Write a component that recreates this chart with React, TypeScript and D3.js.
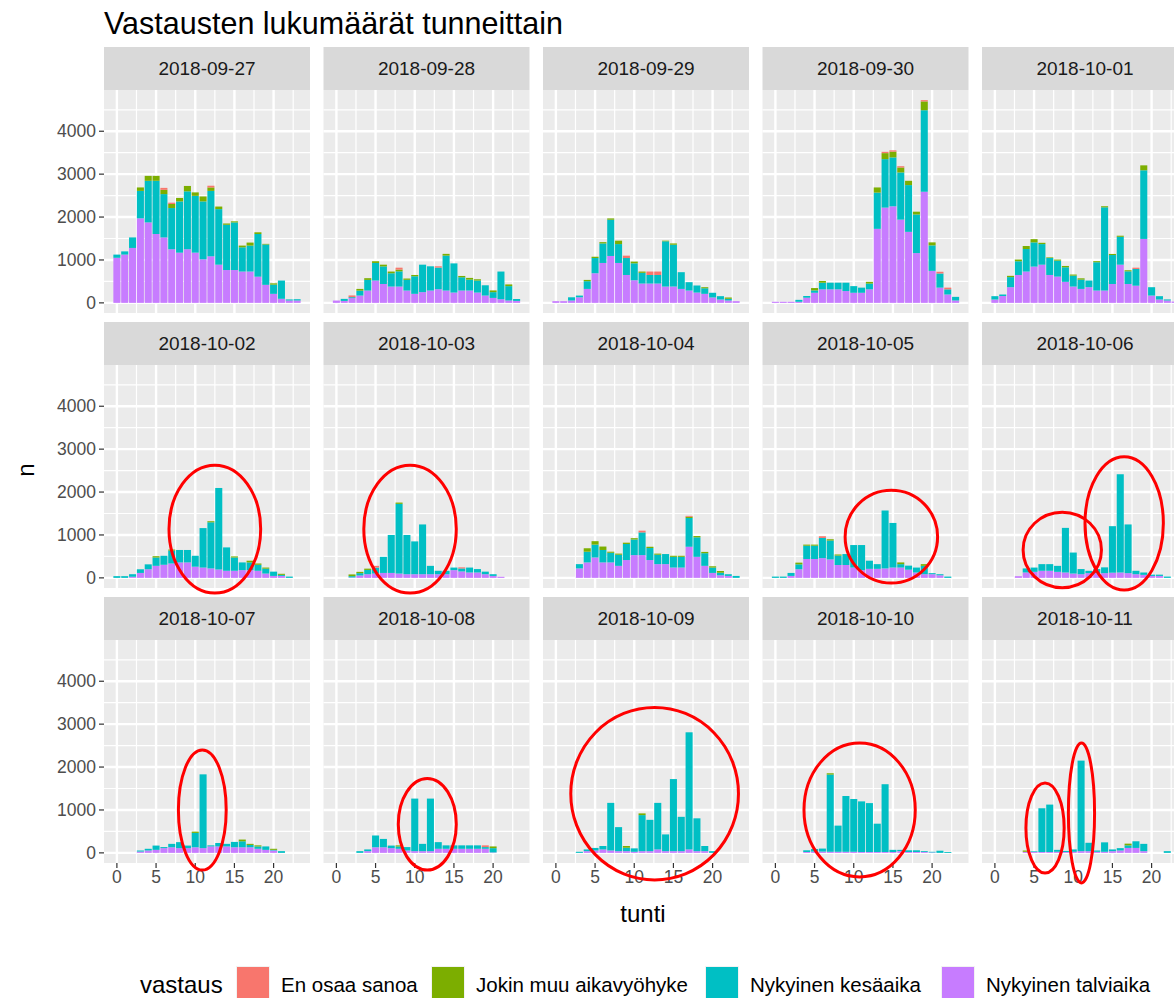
import * as d3 from "d3";
import React from "react";

// päivät (facetit) ja tunnit
const dates = [
  "2018-09-27", "2018-09-28", "2018-09-29", "2018-09-30", "2018-10-01",
  "2018-10-02", "2018-10-03", "2018-10-04", "2018-10-05", "2018-10-06",
  "2018-10-07", "2018-10-08", "2018-10-09", "2018-10-10", "2018-10-11",
];
const hours = [0, 1, 2, 3, 4, 5, 6, 7, 8, 9, 10, 11, 12, 13, 14, 15, 16, 17, 18, 19, 20, 21, 22, 23];

const vastaus = ["En osaa sanoa", "Jokin muu aikavyöhyke", "Nykyinen kesäaika", "Nykyinen talviaika"];
const vastausColors = ["#F8766D", "#7CAE00", "#00BFC4", "#C77CFF"];

// vastaukset tunneittain, yksi rivi per päivä
const enOsaa = [
  [0, 0, 0, 0, 0, 0, 45, 30, 0, 0, 0, 0, 40, 0, 0, 0, 0, 0, 0, 0, 0, 0, 0, 0],
  [0, 0, 40, 0, 0, 0, 0, 0, 45, 0, 0, 0, 0, 30, 0, 0, 0, 0, 0, 0, 0, 0, 0, 0],
  [0, 0, 0, 0, 0, 0, 0, 0, 0, 55, 0, 0, 80, 80, 0, 0, 0, 0, 0, 0, 0, 0, 0, 0],
  [0, 0, 0, 0, 0, 0, 0, 0, 0, 0, 0, 0, 0, 0, 30, 30, 30, 0, 0, 30, 0, 40, 40, 0],
  [0, 0, 0, 0, 0, 0, 0, 0, 0, 0, 0, 0, 0, 0, 0, 0, 0, 0, 30, 0, 0, 0, 0, 0],
  [0, 0, 0, 0, 0, 0, 0, 0, 0, 0, 0, 0, 0, 0, 0, 0, 0, 0, 0, 0, 0, 0, 0, 0],
  [0, 0, 0, 0, 0, 40, 0, 0, 0, 0, 0, 0, 0, 0, 0, 0, 25, 0, 0, 0, 0, 0, 0, 0],
  [0, 0, 0, 0, 0, 0, 0, 0, 0, 0, 0, 40, 0, 0, 0, 0, 0, 20, 0, 0, 0, 0, 0, 0],
  [0, 0, 0, 0, 0, 0, 40, 0, 0, 0, 0, 0, 0, 0, 0, 0, 0, 0, 0, 0, 0, 0, 0, 0],
  [0, 0, 0, 0, 0, 0, 0, 0, 0, 0, 0, 0, 0, 0, 0, 0, 0, 0, 0, 0, 0, 0, 0, 0],
  [0, 0, 0, 0, 0, 0, 0, 0, 0, 0, 0, 0, 0, 0, 0, 0, 0, 0, 0, 0, 0, 0, 0, 0],
  [0, 0, 0, 0, 0, 0, 0, 0, 0, 0, 0, 0, 0, 0, 0, 0, 0, 0, 0, 40, 0, 0, 0, 0],
  [0, 0, 0, 0, 0, 0, 0, 0, 0, 0, 0, 0, 0, 0, 0, 0, 0, 0, 0, 0, 0, 0, 0, 0],
  [0, 0, 0, 0, 0, 0, 0, 0, 0, 0, 0, 0, 0, 0, 0, 0, 0, 0, 0, 0, 0, 0, 0, 0],
  [0, 0, 0, 0, 0, 0, 0, 0, 0, 0, 0, 0, 0, 0, 0, 0, 0, 0, 0, 0, 0, 0, 0, 0],
];

const jokinMuu = [
  [0, 0, 0, 80, 115, 115, 100, 95, 80, 125, 80, 115, 80, 60, 30, 25, 40, 70, 40, 15, 30, 0, 0, 0],
  [0, 0, 0, 40, 40, 40, 40, 40, 40, 30, 30, 0, 0, 0, 40, 0, 30, 40, 30, 0, 40, 0, 40, 0],
  [0, 0, 0, 0, 30, 30, 30, 30, 80, 0, 40, 30, 0, 0, 15, 30, 0, 0, 0, 25, 0, 0, 30, 0],
  [0, 0, 0, 0, 0, 55, 40, 0, 0, 0, 0, 0, 40, 120, 140, 135, 115, 100, 65, 205, 70, 0, 0, 0],
  [0, 0, 30, 40, 70, 75, 30, 15, 25, 30, 25, 30, 0, 25, 25, 25, 25, 25, 0, 115, 0, 0, 0, 0],
  [0, 0, 0, 0, 0, 30, 0, 25, 0, 0, 0, 0, 25, 0, 0, 25, 0, 40, 30, 25, 0, 25, 0, 0],
  [0, 0, 40, 30, 30, 0, 0, 0, 30, 0, 0, 0, 0, 0, 0, 0, 0, 0, 0, 0, 0, 0, 0, 0],
  [0, 0, 0, 0, 80, 80, 80, 25, 25, 30, 30, 0, 30, 25, 0, 25, 25, 30, 30, 30, 30, 40, 0, 0],
  [0, 0, 0, 40, 25, 25, 0, 30, 25, 0, 0, 0, 0, 0, 0, 0, 40, 0, 0, 40, 0, 0, 0, 0],
  [0, 0, 0, 0, 0, 0, 0, 0, 0, 0, 0, 0, 0, 0, 0, 0, 0, 0, 0, 0, 0, 0, 0, 0],
  [0, 0, 0, 0, 0, 0, 0, 0, 0, 0, 30, 0, 0, 0, 0, 0, 40, 25, 25, 0, 25, 0, 0, 0],
  [0, 0, 0, 0, 0, 0, 0, 0, 25, 0, 0, 0, 0, 0, 0, 0, 0, 0, 0, 0, 40, 0, 0, 0],
  [0, 0, 0, 0, 0, 0, 0, 0, 0, 40, 0, 40, 0, 0, 0, 0, 0, 0, 0, 0, 0, 0, 0, 0],
  [0, 0, 0, 0, 0, 0, 0, 30, 0, 0, 0, 0, 0, 0, 0, 0, 0, 0, 0, 0, 0, 0, 0, 0],
  [0, 0, 0, 0, 30, 0, 0, 0, 0, 0, 0, 0, 0, 0, 0, 0, 0, 40, 0, 0, 0, 0, 0, 0],
];

const kesaaika = [
  [75, 75, 245, 640, 970, 1240, 1010, 960, 1195, 1350, 1325, 1350, 1525, 1295, 1055, 1110, 565, 605, 995, 940, 215, 425, 25, 30],
  [0, 48, 23, 115, 248, 410, 410, 310, 355, 250, 410, 640, 565, 505, 815, 680, 310, 255, 280, 240, 135, 645, 335, 45],
  [0, 0, 75, 40, 180, 355, 455, 845, 440, 395, 395, 250, 200, 200, 1055, 975, 390, 195, 165, 130, 110, 78, 40, 0],
  [0, 0, 0, 45, 40, 55, 155, 155, 155, 195, 155, 120, 135, 845, 1130, 1140, 1100, 1090, 900, 1900, 595, 330, 120, 85],
  [78, 35, 235, 320, 525, 565, 480, 395, 372, 340, 255, 217, 155, 660, 1940, 675, 650, 295, 390, 1600, 195, 78, 25, 0],
  [40, 40, 60, 85, 115, 195, 210, 300, 290, 290, 255, 920, 1075, 1900, 545, 310, 180, 180, 140, 115, 100, 25, 30, 0],
  [0, 0, 30, 55, 100, 140, 375, 885, 1625, 915, 765, 1160, 195, 80, 80, 60, 70, 115, 80, 60, 40, 0, 0, 0],
  [0, 0, 0, 100, 250, 300, 290, 225, 260, 375, 365, 530, 280, 220, 235, 250, 250, 670, 455, 295, 125, 60, 40, 45],
  [30, 30, 70, 115, 310, 310, 470, 440, 220, 255, 525, 585, 190, 110, 1350, 1040, 80, 95, 115, 195, 25, 25, 30, 0],
  [0, 0, 0, 0, 95, 100, 155, 155, 140, 1040, 490, 120, 55, 95, 135, 1085, 2290, 1135, 80, 55, 30, 30, 30, 0],
  [0, 0, 0, 25, 40, 100, 25, 80, 140, 60, 335, 1720, 25, 80, 60, 125, 140, 55, 55, 80, 15, 40, 0, 0],
  [0, 0, 0, 40, 40, 275, 195, 60, 55, 80, 1225, 170, 1225, 155, 80, 80, 80, 80, 80, 40, 100, 0, 0, 0],
  [0, 0, 0, 25, 40, 60, 80, 1110, 560, 80, 80, 840, 730, 1085, 390, 1680, 800, 2730, 765, 120, 40, 0, 0, 0],
  [0, 0, 0, 0, 40, 60, 70, 1800, 610, 1300, 1230, 1180, 1140, 660, 1580, 50, 30, 40, 40, 20, 15, 50, 20, 0],
  [0, 0, 0, 0, 0, 15, 1020, 1105, 45, 25, 55, 2110, 195, 30, 220, 40, 55, 60, 155, 170, 0, 0, 40, 0],
];

const talviaika = [
  [1050, 1125, 1280, 1970, 1875, 1605, 1525, 1250, 1170, 1250, 1170, 1015, 1085, 890, 765, 765, 730, 730, 610, 420, 210, 95, 55, 55],
  [54, 45, 110, 170, 287, 520, 440, 380, 380, 287, 210, 250, 287, 318, 287, 240, 287, 287, 240, 170, 115, 85, 55, 45],
  [40, 40, 55, 130, 325, 690, 930, 1093, 930, 650, 527, 450, 450, 450, 380, 380, 325, 287, 240, 210, 125, 78, 55, 40],
  [25, 25, 25, 25, 120, 235, 315, 315, 315, 275, 235, 235, 315, 1725, 2220, 2250, 1940, 1655, 1160, 2590, 745, 355, 195, 55],
  [78, 160, 365, 650, 730, 845, 890, 650, 612, 490, 380, 325, 365, 287, 287, 440, 890, 440, 400, 1490, 170, 78, 55, 30],
  [0, 0, 25, 115, 200, 280, 305, 335, 360, 360, 260, 240, 220, 195, 165, 165, 180, 180, 165, 100, 45, 45, 0, 0],
  [0, 0, 10, 55, 85, 100, 115, 115, 100, 85, 85, 85, 85, 85, 85, 180, 150, 125, 125, 85, 45, 25, 0, 0],
  [0, 0, 0, 220, 360, 475, 360, 360, 280, 415, 530, 530, 415, 320, 320, 240, 240, 725, 490, 280, 115, 60, 45, 0],
  [0, 0, 45, 200, 440, 440, 460, 430, 300, 300, 240, 180, 210, 210, 220, 240, 240, 190, 125, 85, 85, 60, 0, 0],
  [0, 0, 0, 40, 125, 140, 165, 165, 140, 125, 100, 85, 110, 110, 110, 120, 125, 110, 85, 70, 45, 45, 0, 0],
  [0, 0, 0, 30, 55, 70, 110, 130, 110, 110, 130, 110, 150, 150, 150, 130, 130, 130, 95, 70, 55, 0, 0, 0],
  [0, 0, 0, 0, 40, 130, 130, 110, 95, 55, 40, 40, 40, 95, 95, 95, 95, 95, 95, 95, 10, 0, 0, 0],
  [0, 0, 0, 0, 40, 55, 80, 55, 40, 40, 25, 40, 40, 80, 40, 40, 40, 80, 40, 40, 0, 0, 0, 0],
  [0, 0, 0, 0, 20, 30, 30, 25, 25, 25, 25, 20, 20, 20, 20, 20, 40, 20, 20, 20, 10, 0, 0, 0],
  [0, 0, 0, 0, 25, 20, 20, 20, 25, 20, 25, 40, 40, 25, 25, 40, 55, 115, 115, 40, 0, 0, 0, 0],
];

const xTicks = [0, 5, 10, 15, 20];
const xMinor = [2.5, 7.5, 12.5, 17.5, 22.5];
const yTicks = [0, 1000, 2000, 3000, 4000];
const yMinor = [500, 1500, 2500, 3500, 4500];

// punaiset ympyrät (tunti, n, säteet datayksiköissä)
const ympyrat = [
  { date: "2018-10-02", tunti: 12.5, n: 1137, rt: 5.85, rn: 1490 },
  { date: "2018-10-03", tunti: 9.4, n: 1137, rt: 5.9, rn: 1490 },
  { date: "2018-10-05", tunti: 14.8, n: 960, rt: 5.9, rn: 1080 },
  { date: "2018-10-06", tunti: 8.6, n: 650, rt: 5.0, rn: 880 },
  { date: "2018-10-06", tunti: 16.5, n: 1270, rt: 5.0, rn: 1550 },
  { date: "2018-10-07", tunti: 10.9, n: 1000, rt: 3.05, rn: 1400 },
  { date: "2018-10-08", tunti: 11.6, n: 667, rt: 3.7, rn: 1067 },
  { date: "2018-10-09", tunti: 12.6, n: 1380, rt: 10.7, rn: 2010 },
  { date: "2018-10-10", tunti: 10.75, n: 1000, rt: 7.1, rn: 1560 },
  { date: "2018-10-11", tunti: 6.4, n: 580, rt: 2.44, rn: 1050 },
  { date: "2018-10-11", tunti: 11.05, n: 930, rt: 1.67, rn: 1630 },
];

const FONT = "'Liberation Sans', Arial, sans-serif";
const panelW = 206;
const panelH = 223;
const stripH = 43;
const colX = (c) => 104 + c * 219.5;
const stripY = (r) => 47 + r * 275;

const keys = ["talvi", "kesa", "muu", "eos"];
const keyColor = { talvi: "#C77CFF", kesa: "#00BFC4", muu: "#7CAE00", eos: "#F8766D" };

export default function App() {
  const stacked = dates.map((d, i) => {
    const rows = hours.map((h) => ({
      tunti: h,
      talvi: talviaika[i][h],
      kesa: kesaaika[i][h],
      muu: jokinMuu[i][h],
      eos: enOsaa[i][h],
    }));
    return d3.stack().keys(keys)(rows);
  });

  const maxN = d3.max(stacked, (s) => d3.max(s[s.length - 1], (p) => p[1]));
  const x = d3.scaleLinear().domain([-0.45 - 1.195, 23.45 + 1.195]).range([0, panelW]);
  const y = d3
    .scaleLinear()
    .domain([-maxN * 0.05, maxN * 1.05])
    .range([panelH, 0]);
  const bw = x(0.9) - x(0);

  return (
    <svg
      width={1174}
      height={998}
      style={{ position: "absolute", left: 0, top: 0, background: "#fff" }}
      fontFamily={FONT}
    >
      <rect width={1174} height={998} fill="#fff" />
      <text x={104} y={34} fontSize={30.5} fill="#000">
        Vastausten lukumäärät tunneittain
      </text>

      {dates.map((d, i) => {
        const c = i % 5;
        const r = Math.floor(i / 5);
        const px = colX(c);
        const py = stripY(r) + stripH;
        return (
          <g key={d}>
            {/* otsikkonauha */}
            <rect x={px} y={stripY(r)} width={panelW} height={stripH} fill="#D9D9D9" />
            <text
              x={px + panelW / 2}
              y={stripY(r) + stripH / 2}
              textAnchor="middle"
              dominantBaseline="central"
              fontSize={19}
              fill="#1A1A1A"
            >
              {d}
            </text>

            <g transform={`translate(${px},${py})`}>
              <rect width={panelW} height={panelH} fill="#EBEBEB" />
              {xMinor.map((t) => (
                <line key={"xm" + t} x1={x(t)} x2={x(t)} y1={0} y2={panelH} stroke="#fff" strokeWidth={1.2} />
              ))}
              {yMinor.map((t) => (
                <line key={"ym" + t} x1={0} x2={panelW} y1={y(t)} y2={y(t)} stroke="#fff" strokeWidth={1.2} />
              ))}
              {xTicks.map((t) => (
                <line key={"x" + t} x1={x(t)} x2={x(t)} y1={0} y2={panelH} stroke="#fff" strokeWidth={2.4} />
              ))}
              {yTicks.map((t) => (
                <line key={"y" + t} x1={0} x2={panelW} y1={y(t)} y2={y(t)} stroke="#fff" strokeWidth={2.4} />
              ))}

              {stacked[i].map((s) => (
                <g key={s.key} fill={keyColor[s.key]}>
                  {s.map((p) =>
                    p[1] > p[0] ? (
                      <rect
                        key={p.data.tunti}
                        x={x(p.data.tunti) - bw / 2}
                        width={bw}
                        y={y(p[1])}
                        height={y(p[0]) - y(p[1])}
                      />
                    ) : null
                  )}
                </g>
              ))}

              {/* y-akseli vain vasemmassa sarakkeessa */}
              {c === 0 &&
                yTicks.map((t) => (
                  <g key={"yt" + t}>
                    <line x1={-5} x2={0} y1={y(t)} y2={y(t)} stroke="#333333" strokeWidth={1.2} />
                    <text
                      x={-8}
                      y={y(t)}
                      textAnchor="end"
                      dominantBaseline="central"
                      fontSize={17.5}
                      fill="#4D4D4D"
                    >
                      {t}
                    </text>
                  </g>
                ))}

              {/* x-akseli vain alarivissä */}
              {r === 2 &&
                xTicks.map((t) => (
                  <g key={"xt" + t}>
                    <line x1={x(t)} x2={x(t)} y1={panelH} y2={panelH + 5} stroke="#333333" strokeWidth={1.2} />
                    <text
                      x={x(t)}
                      y={panelH + 7}
                      textAnchor="middle"
                      dominantBaseline="hanging"
                      fontSize={17.5}
                      fill="#4D4D4D"
                    >
                      {t}
                    </text>
                  </g>
                ))}
            </g>
          </g>
        );
      })}

      {/* merkinnät */}
      {ympyrat.map((e, k) => {
        const i = dates.indexOf(e.date);
        const px = colX(i % 5);
        const py = stripY(Math.floor(i / 5)) + stripH;
        return (
          <ellipse
            key={k}
            cx={px + x(e.tunti)}
            cy={py + y(e.n)}
            rx={x(e.rt) - x(0)}
            ry={y(0) - y(e.rn)}
            fill="none"
            stroke="#FF0000"
            strokeWidth={3}
          />
        );
      })}

      <text x={643} y={922} textAnchor="middle" fontSize={24} fill="#000">
        tunti
      </text>
      <text
        transform="translate(34,470) rotate(-90)"
        textAnchor="middle"
        fontSize={24}
        fill="#000"
      >
        n
      </text>

      {/* selite */}
      <g>
        <text x={140} y={993} fontSize={24} fill="#000">
          vastaus
        </text>
        {vastaus.map((v, k) => {
          const lx = [236, 431, 705, 941][k];
          return (
            <g key={v}>
              <rect x={lx} y={966} width={34} height={34} fill="#F2F2F2" />
              <rect x={lx + 1} y={967} width={32} height={32} fill={vastausColors[k]} />
              <text x={lx + 45} y={992} fontSize={20.5} fill="#000">
                {v}
              </text>
            </g>
          );
        })}
      </g>
    </svg>
  );
}
